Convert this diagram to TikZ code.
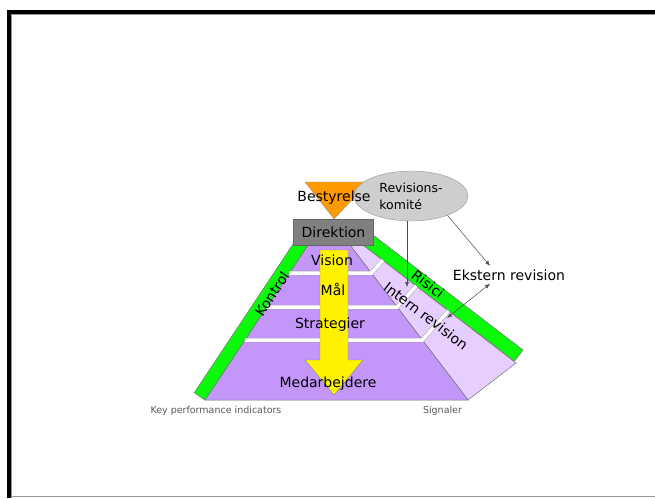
\documentclass[tikz,border=0pt]{standalone}
\usepackage{fontspec}
\setmainfont{DejaVu Sans}
\usepackage{xcolor}
\usepackage{tikz}
\usetikzlibrary{calc}
\usetikzlibrary{shapes, positioning}
\usetikzlibrary{arrows.meta}

\definecolor{lilla}{RGB}{195,150,250}
\definecolor{lyslilla}{RGB}{230,206,255}
\definecolor{groen}{RGB}{10,250,10}
\definecolor{bestorange}{RGB}{255,153,0}
\definecolor{direktgraa}{RGB}{128,128,128}
\definecolor{revgraa}{RGB}{206,206,206}

\begin{document}
\begin{tikzpicture}[
		x=1pt, y=-1pt,
		felt/.style={draw=black!55, line width=0.5pt},
		lag/.style={font=\fontsize{14}{16}\selectfont, anchor=base},
		skraa/.style={font=\fontsize{14}{16}\selectfont, inner sep=0pt},
		lille/.style={font=\fontsize{9.5}{11}\selectfont, text=black!65, anchor=base},
		streg/.style={draw=black!35, double=white, double distance=3.5pt, line width=0.5pt},
		pil/.style={draw=black!70, line width=0.5pt, -{Latex[length=5pt, width=4pt]}}
		]
		\useasboundingbox (0,0) rectangle (655,498);
		
		% Ramme
		\fill[black] (7,10) rectangle (655,14);
		\fill[black] (7,10) rectangle (11,498);
		\draw[black!40, line width=0.6pt] (11.5,498) -- (11.5,14.7) -- (655,14.7);
		\draw[black!40, line width=1.2pt] (11.5,496.3) -- (655,496.3);
		
		% Intern revision og Risici
		\filldraw[fill=lyslilla, felt] (350,245) -- (468,400) -- (516,363) -- (363,245) -- cycle;
		\filldraw[fill=groen, felt] (360,225) -- (523,350) -- (514.5,361.1) -- (351.5,236.1) -- cycle;
		
		% Pyramiden og Kontrol
		\filldraw[fill=lilla, felt] (308,245) -- (350,245) -- (468,400) -- (205,400) -- cycle;
		\filldraw[fill=groen, felt] (318,230) -- (205,400) -- (194.2,392.8) -- (307.2,222.8) -- cycle;
		
		% Skillelinjer mellem lagene
		\draw[streg] (289.4,273) -- (371.3,273) -- (382.8,260.2);
		\draw[streg] (266.8,307) -- (397.2,307) -- (416.1,286);
		\draw[streg] (244.9,340) -- (422.3,340) -- (448.5,310.9);
		
		% Gul pil ned gennem lagene
		\filldraw[fill=yellow, draw=black!50, line width=0.4pt] (320,250) -- (348,250) -- (348,360) -- (363,360) -- (334,395) -- (305,360) -- (320,360) -- cycle;
		
		% Bestyrelse
		\filldraw[fill=bestorange, draw=black!40, line width=0.4pt] (305,182) -- (369,182) -- (334,219) -- cycle;
		
		% Nodes
		\node[ellipse, fill=revgraa, draw=black!40, minimum width=114pt, minimum height=50pt, inner sep=0pt, align=left, font=\fontsize{12.5}{17}\selectfont] (rev) at (411,196) {Revisions-\\komité};
		\node[rectangle, fill=direktgraa, draw=black!60, minimum width=80pt, minimum height=26pt, font=\fontsize{14}{16}\selectfont] (dir) at (333.5,232) {Direktion};
		\node[lag] (best) at (334,201) {Bestyrelse};
		
		\node[lag] (vision) at (332,265) {Vision};
		\node[lag] (maal) at (333,295) {Mål};
		\node[lag] (strat) at (330,328) {Strategier};
		\node[lag] (medarb) at (328,387) {Medarbejdere};
		
		\node[skraa, rotate=56.4] (kontrol) at (272,294) {Kontrol};
		\node[skraa, rotate=-37.5] (risici) at (428,284) {Risici};
		\node[skraa, rotate=-37] (intern) at (426,316) {Intern revision};
		
		\node[lag] (ekst) at (509,280) {Ekstern revision};
		
		\node[lille] (kpi) at (216,413) {Key performance indicators};
		\node[lille] (signal) at (442.5,413) {Signaler};
		
		% Pile
		\coordinate (ekstind) at (490,263);
		\coordinate (intind) at (407,287);
		\coordinate (intud) at (447,318);
		\draw[pil] (rev.south -| intind) -- (intind);
		\draw[pil] (rev.-28) -- (ekst.north -| ekstind);
		\draw[pil, {Latex[length=5pt, width=4pt]}-{Latex[length=5pt, width=4pt]}] (ekst.south -| ekstind) -- (intud);
		
	\end{tikzpicture}
\end{document}
